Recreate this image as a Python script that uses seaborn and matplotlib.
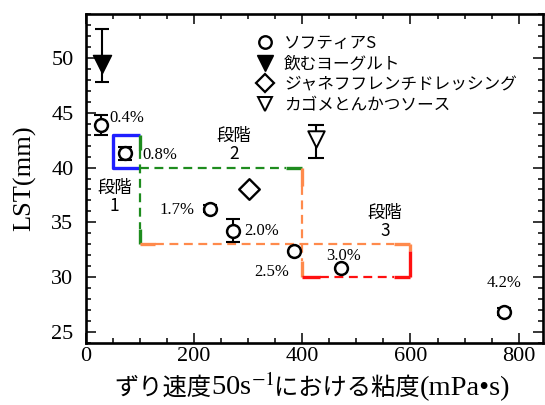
import numpy as np
import pandas as pd
import seaborn as sns
import matplotlib
matplotlib.use("Agg")
import matplotlib.pyplot as plt
from matplotlib.lines import Line2D
from matplotlib.ticker import MultipleLocator
from matplotlib.offsetbox import TextArea, HPacker, AnchoredOffsetbox

# ソフティアS: viscosity (mPa·s), LST (mm), error, concentration label
softia_x = [27, 72, 229, 272, 384, 472, 773]
softia_y = [43.9, 41.3, 36.25, 34.25, 32.4, 30.8, 26.85]
softia_err = [0.9, 0.6, 0.3, 1.05, 0.0, 0.0, 0.3]
softia_pct = ["0.4%", "0.8%", "1.7%", "2.0%", "2.5%", "3.0%", "4.2%"]

# 飲むヨーグルト
yogurt_x = [29]
yogurt_y = [49.4]
yogurt_err_lo = [1.6]
yogurt_err_hi = [3.2]

# ジャネフフレンチドレッシング
dressing_x = [302]
dressing_y = [38.0]

# カゴメとんかつソース
sauce_x = [426]
sauce_y = [42.6]
sauce_err_lo = [1.7]
sauce_err_hi = [1.3]

legend_labels = ["ソフティアS", "飲むヨーグルト", "ジャネフフレンチドレッシング", "カゴメとんかつソース"]
stage_labels = ["段階\n1", "段階\n2", "段階\n3"]

sns.set_theme(style="ticks")
plt.rcParams["font.family"] = ["Liberation Serif", "Noto Sans CJK JP", "DejaVu Sans"]
plt.rcParams["mathtext.fontset"] = "stix"
for key in ["text.color", "axes.labelcolor", "xtick.color", "ytick.color", "axes.edgecolor"]:
    plt.rcParams[key] = "black"

SERIF = ["Liberation Serif", "Noto Sans CJK JP", "DejaVu Sans"]
GOTHIC = ["Noto Sans CJK JP", "DejaVu Sans"]

fig = plt.figure(figsize=(5.45, 4.05), dpi=100)
ax = fig.add_axes([86 / 545, 1 - 343 / 405, (543 - 86) / 545, (343 - 14) / 405])

# markers
df_soft = pd.DataFrame({"x": softia_x, "y": softia_y})
sns.scatterplot(data=df_soft, x="x", y="y", ax=ax, marker="o", s=85,
                facecolor="white", edgecolor="black", linewidth=1.8, zorder=5, legend=False)
ax.errorbar(softia_x, softia_y, yerr=softia_err, fmt="none", ecolor="black",
            elinewidth=1.5, capsize=4.8, capthick=1.5, zorder=4)

sns.scatterplot(x=yogurt_x, y=yogurt_y, ax=ax, marker="v", s=170,
                color="black", edgecolor="black", linewidth=1.0, zorder=5, legend=False)
ax.errorbar(yogurt_x, yogurt_y, yerr=[yogurt_err_lo, yogurt_err_hi], fmt="none",
            ecolor="black", elinewidth=1.5, capsize=5, capthick=1.5, zorder=4)

sns.scatterplot(x=dressing_x, y=dressing_y, ax=ax, marker="D", s=110,
                facecolor="white", edgecolor="black", linewidth=1.7, zorder=5, legend=False)

sns.scatterplot(x=sauce_x, y=sauce_y, ax=ax, marker="v", s=140,
                facecolor="white", edgecolor="black", linewidth=1.4, zorder=5, legend=False)
ax.errorbar(sauce_x, sauce_y, yerr=[sauce_err_lo, sauce_err_hi], fmt="none",
            ecolor="black", elinewidth=1.5, capsize=5.5, capthick=1.5, zorder=4)

# stage boundaries
BLUE, GREEN, ORANGE, RED = "#1f1fff", "#1e8c1e", "#ff8a4c", "#ff1010"
lw = 2.4
dash = dict(lw=1.6, ls=(0, (4, 2.5)))

ax.plot([100, 50, 50, 100], [40, 40, 43, 43], color=BLUE, lw=lw, solid_capstyle="butt", zorder=3)

ax.plot([100, 100], [43, 41.6], color=GREEN, lw=lw, solid_capstyle="butt", zorder=3)
ax.plot([100, 100], [41.6, 34.4], color=GREEN, **dash, zorder=3)
ax.plot([100, 100], [34.4, 33], color=GREEN, lw=lw, solid_capstyle="butt", zorder=3)
ax.plot([100, 370], [40, 40], color=GREEN, **dash, zorder=3)
ax.plot([370, 400], [40, 40], color=GREEN, lw=lw, solid_capstyle="butt", zorder=3)

ax.plot([400, 400], [40, 38.3], color=ORANGE, lw=lw, solid_capstyle="butt", zorder=3)
ax.plot([400, 400], [38.3, 31.5], color=ORANGE, **dash, zorder=3)
ax.plot([400, 400], [31.5, 30], color=ORANGE, lw=lw, solid_capstyle="butt", zorder=3)
ax.plot([100, 128], [33, 33], color=ORANGE, lw=lw, solid_capstyle="butt", zorder=3)
ax.plot([128, 570], [33, 33], color=ORANGE, **dash, zorder=3)
ax.plot([570, 600], [33, 33], color=ORANGE, lw=lw, solid_capstyle="butt", zorder=3)

ax.plot([600, 600], [33, 32.4], color=ORANGE, lw=lw, solid_capstyle="butt", zorder=3)
ax.plot([600, 600], [32.4, 30], color=RED, lw=lw, solid_capstyle="butt", zorder=3)
ax.plot([400, 432], [30, 30], color=RED, lw=lw, solid_capstyle="butt", zorder=3)
ax.plot([432, 570], [30, 30], color=RED, **dash, zorder=3)
ax.plot([570, 600], [30, 30], color=RED, lw=lw, solid_capstyle="butt", zorder=3)

# stage captions
for (sx, sy), lab in zip([(53, 37.3), (274, 42.1), (553, 35.0)], stage_labels):
    ax.text(sx, sy, lab, family=GOTHIC, fontsize=12.5, ha="center", va="center",
            linespacing=1.0, zorder=6)

# concentration labels
pct_pos = [(44, 44.5, "left"), (105, 41.1, "left"), (201, 36.1, "right"),
           (292, 34.2, "left"), (376, 30.5, "right"), (477, 31.9, "center"),
           (773, 29.5, "center")]
for (px, py, ha), lab in zip(pct_pos, softia_pct):
    ax.text(px, py, lab, family=SERIF, fontsize=12, ha=ha, va="center", zorder=6)

# axes
ax.set_xlim(0, 845)
ax.set_ylim(24, 54)
ax.xaxis.set_major_locator(MultipleLocator(200))
ax.xaxis.set_minor_locator(MultipleLocator(50))
ax.yaxis.set_major_locator(MultipleLocator(5))
ax.yaxis.set_minor_locator(MultipleLocator(1))
ax.tick_params(which="both", direction="in", top=True, right=True, color="black", width=1.1)
ax.tick_params(which="major", length=7, labelsize=16, labelcolor="black")
ax.tick_params(axis="x", which="major", pad=3)
ax.tick_params(axis="y", which="major", pad=9)
ax.tick_params(which="minor", length=3.5)
for lab in ax.get_xticklabels() + ax.get_yticklabels():
    lab.set_family(SERIF)
for sp in ax.spines.values():
    sp.set_linewidth(1.9)
    sp.set_color("black")
ax.set_xlabel("")
ax.set_ylabel("LST(mm)", family=SERIF, fontsize=19, labelpad=11, color="black")

# x label: mixed Japanese / Latin text with superscript
parts = [
    TextArea("ずり速度", textprops=dict(family=GOTHIC, fontsize=17.5, color="black")),
    TextArea("50s$^{-1}$", textprops=dict(family=SERIF, fontsize=20.5, color="black")),
    TextArea("における粘度", textprops=dict(family=GOTHIC, fontsize=17.5, color="black")),
    TextArea("(mPa•s)", textprops=dict(family=SERIF, fontsize=20.5, color="black")),
]
xlabel_box = HPacker(children=parts, align="baseline", pad=0, sep=0)
anch = AnchoredOffsetbox(loc="upper center", child=xlabel_box, pad=0, frameon=False,
                         bbox_to_anchor=(0.495, -0.092), bbox_transform=ax.transAxes,
                         borderpad=0)
ax.add_artist(anch)

# legend
handles = [
    Line2D([], [], ls="none", marker="o", ms=9, mfc="white", mec="black", mew=1.7),
    Line2D([], [], ls="none", marker="v", ms=11, mfc="black", mec="black"),
    Line2D([], [], ls="none", marker="D", ms=9, mfc="white", mec="black", mew=1.6),
    Line2D([], [], ls="none", marker="v", ms=10, mfc="white", mec="black", mew=1.4),
]
leg = ax.legend(handles, legend_labels, loc="upper left", bbox_to_anchor=(0.355, 0.962),
                frameon=False, prop=dict(family=GOTHIC, size=12), handlelength=1.0,
                handletextpad=0.65, labelspacing=0.22, borderpad=0)
for t in leg.get_texts():
    t.set_color("black")

fig.savefig("out.png", dpi=100)
